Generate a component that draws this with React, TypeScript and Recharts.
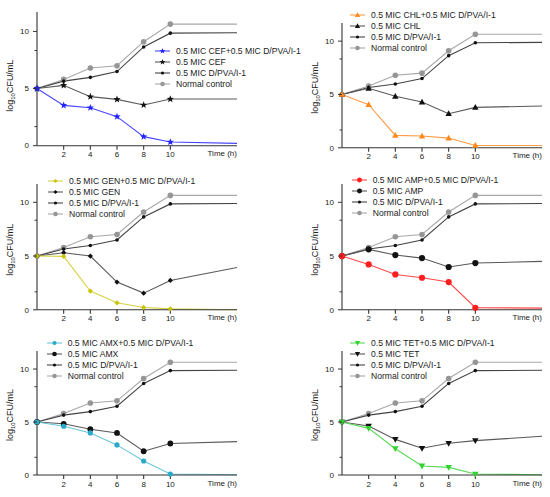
import { Label, Legend, Line, LineChart, XAxis, YAxis } from 'recharts';

// time points; 15 is where the axis ends (line runs on, no marker)
const TIME = [0, 2, 4, 6, 8, 10, 15];
const X_TICKS = [2, 4, 6, 8, 10];
const Y_TICKS = [0, 1.67, 5, 8.33, 10];
const Y_LABELLED = [0, 5, 10];

const NORMAL_CONTROL = [5, 5.8, 6.8, 7.0, 9.1, 10.64, 10.64];
const DPVA = [5, 5.65, 5.98, 6.49, 8.64, 9.85, 9.88];

const CEF = [5, 5.28, 4.29, 4.05, 3.56, 4.08, 4.08];
const CEF_COMBO = [5, 3.53, 3.32, 2.54, 0.79, 0.32, 0.2];
const CHL = [5, 5.58, 4.83, 4.29, 3.2, 3.79, 3.92];
const CHL_COMBO = [5, 4.04, 1.16, 1.1, 0.91, 0.22, 0.22];
const GEN = [5, 5.31, 5.0, 2.58, 1.55, 2.73, 3.94];
const GEN_COMBO = [5, 4.97, 1.74, 0.65, 0.22, 0.09, 0];
const AMP = [5, 5.62, 5.09, 4.81, 3.98, 4.35, 4.5];
const AMP_COMBO = [5, 4.22, 3.29, 2.98, 2.58, 0.19, 0.16];
const AMX = [5, 4.83, 4.32, 3.97, 2.24, 2.97, 3.15];
const AMX_COMBO = [5, 4.6, 3.97, 2.84, 1.32, 0.09, 0.03];
const TET = [5, 4.62, 3.36, 2.52, 2.99, 3.24, 3.65];
const TET_COMBO = [5, 4.4, 2.48, 0.85, 0.72, 0.09, 0.03];

const DRUGS = ['CEF', 'CHL', 'GEN', 'AMP', 'AMX', 'TET'];
const SINGLE = [CEF, CHL, GEN, AMP, AMX, TET];
const COMBO = [CEF_COMBO, CHL_COMBO, GEN_COMBO, AMP_COMBO, AMX_COMBO, TET_COMBO];

type Shape = 'circle' | 'star' | 'triangle' | 'triangleDown' | 'diamond';

const STYLE: { color: string; line: string; shape: Shape; r: number; singleR: number }[] = [
  { color: '#2424ff', line: '#4646ff', shape: 'star', r: 3.8, singleR: 3.8 },
  { color: '#ff8a1e', line: '#ff9c46', shape: 'triangle', r: 3.4, singleR: 3.4 },
  { color: '#c8c400', line: '#d6d246', shape: 'diamond', r: 2.6, singleR: 2.6 },
  { color: '#ff1e1e', line: '#ff4848', shape: 'circle', r: 3.1, singleR: 3.1 },
  { color: '#2aaac8', line: '#6ac6de', shape: 'circle', r: 2.6, singleR: 2.9 },
  { color: '#32d232', line: '#58da58', shape: 'triangleDown', r: 3.4, singleR: 3.4 },
];

// plot box of each panel in page pixels, legend anchor (symbol left, first row centre)
const BOX = [
  { left: 37, top: 12, bottom: 145.7, lx: 155, ly: 51 },
  { left: 341.7, top: 22.5, bottom: 147.3, lx: 350, ly: 15 },
  { left: 37, top: 183.5, bottom: 309.3, lx: 48, ly: 181 },
  { left: 341.7, top: 183.5, bottom: 309.3, lx: 351.7, ly: 180 },
  { left: 37, top: 351, bottom: 475, lx: 46.7, ly: 343.3 },
  { left: 341.7, top: 351, bottom: 475, lx: 350, ly: 343.3 },
];

const FONT = '"Liberation Sans", Arial, sans-serif';
const LEGEND_FONT = '"Liberation Sans Narrow", "Arial Narrow", "Liberation Sans", Arial, sans-serif';
const AXIS_W = 37;
const PLOT_W = 200;
const TOP = 2;
const XAXIS_H = 22;
const GRAY = '#969696';
const GRAY_LINE = '#a8a8a8';
const DARK = '#111';
const DARK_LINE = '#444';
const SINGLE_LINE = '#5a5a5a';

function Marker({ shape, x, y, r, fill }: { shape: Shape; x: number; y: number; r: number; fill: string }) {
  if (shape === 'circle') return <circle cx={x} cy={y} r={r} fill={fill} />;
  if (shape === 'diamond')
    return <polygon points={`${x},${y - r} ${x + r},${y} ${x},${y + r} ${x - r},${y}`} fill={fill} />;
  if (shape === 'triangle')
    return (
      <polygon points={`${x},${y - r} ${x + r * 0.95},${y + r * 0.7} ${x - r * 0.95},${y + r * 0.7}`} fill={fill} />
    );
  if (shape === 'triangleDown')
    return (
      <polygon points={`${x},${y + r} ${x + r * 0.95},${y - r * 0.7} ${x - r * 0.95},${y - r * 0.7}`} fill={fill} />
    );
  const pts: string[] = [];
  for (let i = 0; i < 10; i++) {
    const a = -Math.PI / 2 + (i * Math.PI) / 5;
    const rr = i % 2 === 0 ? r : r * 0.42;
    pts.push(`${x + rr * Math.cos(a)},${y + rr * Math.sin(a)}`);
  }
  return <polygon points={pts.join(' ')} fill={fill} />;
}

const dotFor = (shape: Shape, fill: string, r: number) => (p: any) => {
  const { cx, cy, index, payload } = p;
  if (cx == null || payload.t > 10) return <g key={`e${index}`} />;
  return (
    <g key={`m${index}`}>
      <Marker shape={shape} x={cx} y={cy} r={r} fill={fill} />
    </g>
  );
};

type LegendItem = { name: string; line: string; fill: string; shape: Shape; r: number };

function LegendBox({ items }: { items: LegendItem[] }) {
  return (
    <div style={{ whiteSpace: 'nowrap', fontFamily: LEGEND_FONT, fontSize: 8.6, color: '#222' }}>
      {items.map((it) => (
        <div key={it.name} style={{ display: 'flex', alignItems: 'center', height: 11 }}>
          <svg width={15} height={10} style={{ display: 'block' }}>
            <line x1={0} x2={15} y1={5} y2={5} stroke={it.line} strokeWidth={1.1} />
            <Marker shape={it.shape} x={7.5} y={5} r={it.r * 0.8} fill={it.fill} />
          </svg>
          <span style={{ marginLeft: 6, lineHeight: '11px' }}>{it.name}</span>
        </div>
      ))}
    </div>
  );
}

function Panel({ i }: { i: number }) {
  const box = BOX[i];
  const st = STYLE[i];
  const drug = DRUGS[i];
  const plotH = box.bottom - box.top;
  const chartLeft = box.left - AXIS_W;
  const chartTop = box.top - TOP;
  const width = AXIS_W + PLOT_W + 8;
  const height = TOP + plotH + XAXIS_H;
  const axisY = TOP + plotH;

  const data = TIME.map((t, k) => ({
    t,
    normal: NORMAL_CONTROL[k],
    dpva: DPVA[k],
    single: SINGLE[i][k],
    combo: COMBO[i][k],
  }));

  const legendItems: LegendItem[] = [
    { name: `0.5 MIC ${drug}+0.5 MIC D/PVA/I-1`, line: st.line, fill: st.color, shape: st.shape, r: st.r },
    { name: `0.5 MIC ${drug}`, line: SINGLE_LINE, fill: DARK, shape: st.shape, r: st.singleR },
    { name: '0.5 MIC D/PVA/I-1', line: DARK_LINE, fill: DARK, shape: 'circle', r: 2 },
    { name: 'Normal control', line: GRAY_LINE, fill: GRAY, shape: 'circle', r: 2.8 },
  ];

  const yTick = (p: any) => {
    const v = p.payload.value;
    const major = Y_LABELLED.includes(v);
    const y = p.y;
    return (
      <g>
        <line x1={AXIS_W - (major ? 4 : 2.5)} x2={AXIS_W} y1={y} y2={y} stroke="#333" strokeWidth={1} />
        {major && (
          <text x={AXIS_W - 8} y={y} dy="0.35em" textAnchor="end" fontSize={8} fill="#222" fontFamily={FONT}>
            {v}
          </text>
        )}
      </g>
    );
  };

  return (
    <div style={{ position: 'absolute', left: chartLeft, top: chartTop }}>
      <LineChart width={width} height={height} data={data} margin={{ top: TOP, right: 8, bottom: 0, left: 0 }}>
        <XAxis
          dataKey="t"
          type="number"
          domain={[0, 15]}
          ticks={X_TICKS}
          interval={0}
          height={XAXIS_H}
          tickSize={4}
          tick={{ fontSize: 8, fill: '#222', fontFamily: FONT }}
          stroke="#333"
          strokeWidth={1.1}
        >
          <Label
            content={() => (
              <text
                x={AXIS_W + PLOT_W}
                y={axisY + 10.5}
                textAnchor="end"
                fontSize={8}
                fill="#222"
                fontFamily={FONT}
              >
                Time (h)
              </text>
            )}
          />
        </XAxis>
        <YAxis
          type="number"
          domain={[0, 11.7]}
          ticks={Y_TICKS}
          interval={0}
          width={AXIS_W}
          tickLine={false}
          tick={yTick}
          stroke="#333"
          strokeWidth={1.1}
        >
          <Label
            content={() => {
              const cx = AXIS_W - 27;
              const cy = axisY - 60;
              return (
                <text
                  x={cx}
                  y={cy}
                  transform={`rotate(-90 ${cx} ${cy})`}
                  textAnchor="middle"
                  dy="0.35em"
                  fontSize={9}
                  fill="#222"
                  fontFamily={FONT}
                >
                  log
                  <tspan fontSize={6} dy={2}>
                    10
                  </tspan>
                  <tspan dy={-2}>CFU/mL</tspan>
                </text>
              );
            }}
          />
        </YAxis>
        <Legend
          layout="vertical"
          align="center"
          verticalAlign="middle"
          wrapperStyle={{ left: box.lx - chartLeft, top: box.ly - 5.5 - chartTop, width: 'auto', height: 'auto' }}
          content={() => <LegendBox items={legendItems} />}
        />
        <Line
          type="linear"
          dataKey="normal"
          stroke={GRAY_LINE}
          strokeWidth={1.1}
          dot={dotFor('circle', GRAY, 2.8)}
          activeDot={false}
          isAnimationActive={false}
        />
        <Line
          type="linear"
          dataKey="dpva"
          stroke={DARK_LINE}
          strokeWidth={1.1}
          dot={dotFor('circle', DARK, 1.8)}
          activeDot={false}
          isAnimationActive={false}
        />
        <Line
          type="linear"
          dataKey="single"
          stroke={SINGLE_LINE}
          strokeWidth={1.1}
          dot={dotFor(st.shape, DARK, st.singleR)}
          activeDot={false}
          isAnimationActive={false}
        />
        <Line
          type="linear"
          dataKey="combo"
          stroke={st.line}
          strokeWidth={1.1}
          dot={dotFor(st.shape, st.color, st.r)}
          activeDot={false}
          isAnimationActive={false}
        />
      </LineChart>
    </div>
  );
}

export default function App() {
  return (
    <div style={{ position: 'absolute', left: 0, top: 0, width: 550, height: 497, background: '#fff' }}>
      {DRUGS.map((d, i) => (
        <Panel key={d} i={i} />
      ))}
    </div>
  );
}
